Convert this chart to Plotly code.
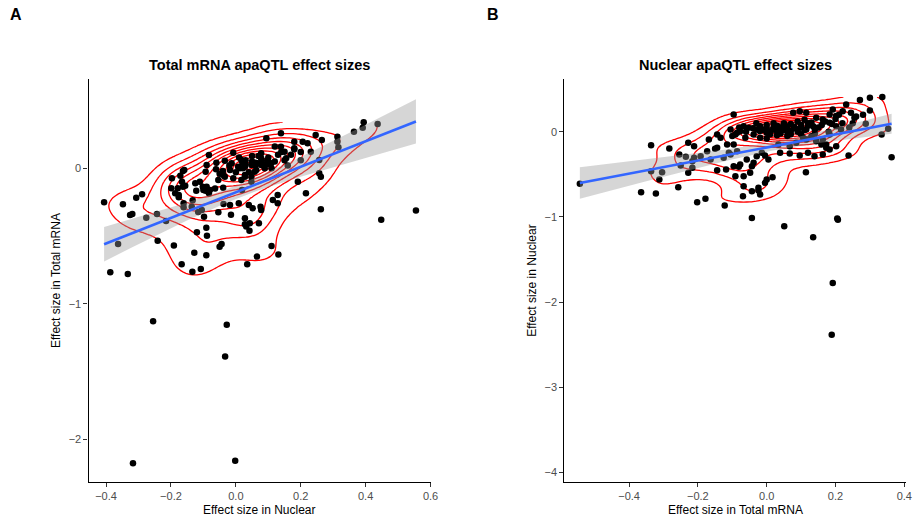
import numpy as np
import plotly.graph_objects as go

# ---------------- Panel A: Total mRNA apaQTLs (x = Nuclear effect, y = Total effect)
a_nuclear = [-0.406, -0.348, -0.307, -0.289, -0.326, -0.319, -0.276, -0.243, -0.215, -0.363,
             -0.387, -0.333, -0.241, -0.191, -0.167, -0.134, -0.108, -0.128, -0.091, -0.050,
             -0.044, 0.035, 0.065, -0.120, -0.091, -0.089, 0.042, 0.028, 0.071, -0.098,
             -0.116, -0.054, -0.015, 0.009, 0.040, 0.052, 0.076, -0.038, -0.083, -0.133,
             -0.161, -0.176, -0.179, -0.199, -0.197, -0.163, -0.156, -0.122, -0.111, -0.102,
             -0.093, -0.083, -0.061, -0.039, -0.034, -0.008, -0.064, -0.039, -0.008, 0.012,
             0.028, 0.058, 0.078, 0.078, 0.019, 0.048,
             -0.090, -0.093, -0.159, -0.171, -0.166, -0.163, -0.125, -0.176, -0.187, -0.161,
             -0.136, -0.100, -0.090, -0.080, -0.105, -0.018, -0.054, -0.034, -0.018, -0.013,
             0.007, 0.017, 0.028,
             0.094, 0.139, 0.246, 0.265, 0.313, 0.206, 0.221, 0.180, 0.180, 0.139,
             0.150, 0.155, 0.078, 0.099, 0.109, 0.068, 0.089, 0.048, 0.022, 0.028,
             0.017, 0.048, 0.063, 0.231, 0.257, 0.313, 0.257, 0.262, 0.191, 0.216,
             0.129, 0.114, 0.129, 0.078, 0.262, 0.028, 0.043, 0.032,
             0.394, 0.391, 0.364, 0.437, 0.316, 0.448, 0.555, 0.110, 0.131,
             -0.255, -0.028, -0.033, -0.317, -0.002,
             0.03, 0.05, 0.06, 0.04, 0.09, 0.10, 0.07, 0.02, -0.02, 0.00,
             0.11, 0.12, -0.06, -0.05, 0.13, 0.12, 0.17, 0.20, 0.16, 0.20,
             -0.04, 0.01, 0.03, 0.05, 0.06, 0.08, 0.10, 0.14, 0.15, 0.18]
a_total = [-0.251, -0.265, -0.217, -0.192, -0.344, -0.337, -0.364, -0.337, -0.388, -0.558,
           -0.766, -0.779, -0.534, -0.570, -0.707, -0.762, -0.742, -0.622, -0.641, -0.578,
           -0.558, -0.707, -0.651, -0.472, -0.438, -0.497, -0.460, -0.413, -0.405, -0.357,
           -0.322, -0.324, -0.342, -0.258, -0.270, -0.295, -0.283, -0.263, -0.184, -0.236,
           -0.258, -0.197, -0.147, -0.147, -0.074, -0.020, -0.128, -0.165, -0.099, -0.136,
           -0.165, 0.098, -0.007, -0.049, 0.056, 0.115, -0.150, -0.143, -0.074, 0.000,
           0.012, -0.025, 0.024, 0.111, -0.160, -0.099,
           0.024, -0.025, -0.013, -0.055, -0.099, -0.136, -0.111, -0.214, -0.184, -0.287,
           -0.283, -0.160, -0.136, -0.160, -0.307, -0.270, -0.086, -0.062, -0.013, 0.037,
           0.012, 0.061, -0.062,
           0.221, 0.258, 0.245, 0.209, 0.233, 0.196, 0.184, 0.196, 0.147, 0.159,
           0.122, 0.074, 0.074, 0.061, 0.037, 0.037, 0.000, 0.024, 0.000, -0.049,
           -0.086, -0.062, -0.013, 0.122, 0.061, 0.196, -0.037, -0.062, -0.099, -0.184,
           -0.197, -0.234, -0.258, -0.307, -0.302, -0.368, -0.405, -0.430,
           0.339, 0.299, 0.270, 0.326, 0.155, -0.379, -0.312, -0.573, -0.636,
           -1.127, -1.153, -1.388, -2.174, -2.155,
           0.03, 0.05, 0.02, -0.03, 0.03, 0.08, 0.09, 0.04, 0.02, -0.03,
           0.00, 0.05, 0.04, -0.04, 0.10, 0.16, 0.10, 0.12, 0.02, 0.06,
           -0.02, 0.08, 0.06, 0.09, 0.04, 0.06, 0.03, 0.12, 0.06, 0.14]

# ---------------- Panel B: Nuclear apaQTLs (x = Total effect, y = Nuclear effect)
b_total = [-0.543, -0.336, -0.283, -0.228, -0.168, -0.144, -0.134, -0.254, -0.235, -0.211,
           -0.192, -0.250, -0.216, -0.173, -0.163, -0.144, -0.125, -0.105, -0.304, -0.312,
           -0.336, -0.228, -0.144, -0.118, -0.365, -0.322, -0.257, -0.202, -0.178, -0.122,
           -0.211, -0.216, -0.096, -0.115, -0.110, -0.096, -0.086, -0.091, -0.067, -0.048,
           -0.096, -0.077, -0.058, -0.038, -0.067, -0.043, -0.024, -0.019, -0.024, -0.091,
           -0.077, -0.062, -0.053, -0.038, -0.029, -0.019, -0.014, -0.029,
           0.271, 0.300, 0.336, 0.334, 0.353, 0.363, 0.288, 0.238, 0.114, -0.043,
           0.051, 0.205, -0.069, -0.005, 0.000, 0.017, -0.081, -0.043, -0.005, 0.005,
           0.039, 0.067, 0.096, 0.120, 0.034, 0.067, 0.086, 0.115, 0.139, 0.163,
           0.183, 0.202, 0.163, 0.183, 0.173, 0.144, 0.163, 0.183, 0.202, 0.221,
           0.231, 0.255, 0.245, 0.096, 0.077, 0.115, 0.019, 0.000, 0.039, 0.058,
           -0.019, -0.067, -0.086, -0.105, 0.115, 0.135, 0.130, 0.106, 0.183, 0.202,
           0.216, 0.144, 0.159, 0.173, 0.192,
           0.135, 0.192, 0.189, 0.207,
           0.02, 0.04, 0.06, 0.08, 0.10, 0.03, -0.01, 0.07, 0.09, 0.12,
           0.14, 0.05, 0.00, -0.03, 0.11, 0.16, 0.25, 0.28, -0.15,
           0.00, 0.01, 0.02, 0.03, 0.04, 0.05, 0.06, 0.07, 0.08, 0.09,
           0.03, 0.05, 0.07, 0.10, 0.11, 0.12, -0.02, -0.04, 0.01, 0.04,
           0.06, 0.13, 0.15, 0.17, 0.19, 0.09, 0.02, -0.06, -0.08, 0.14,
           0.20, 0.22, 0.24, 0.18, -0.10, 0.00, 0.10, 0.26, 0.30, 0.21]
b_nuclear = [-0.612, -0.158, -0.196, -0.129, -0.091, -0.032, -0.071, -0.267, -0.294, -0.306,
             -0.287, -0.396, -0.346, -0.228, -0.326, -0.188, -0.306, -0.267, -0.475, -0.561,
             -0.463, -0.482, -0.452, -0.443, -0.711, -0.726, -0.652, -0.828, -0.788, -0.867,
             -0.169, -0.424, 0.204, -0.149, -0.247, -0.149, -0.228, -0.522, -0.522, -0.482,
             -0.405, -0.385, -0.326, -0.365, -0.640, -0.699, -0.691, -0.738, -0.659, -0.032,
             0.007, -0.071, 0.047, -0.032, 0.027, -0.071, -0.247, -0.287,
             0.372, 0.400, 0.407, -0.032, 0.035, -0.299, 0.094, -0.279, -0.475, -1.012,
             -1.111, -1.020, -0.758, -0.600, -0.561, -0.534, -0.412, -0.405, -0.279, -0.326,
             -0.247, -0.255, -0.279, -0.247, -0.149, -0.169, -0.129, -0.091, -0.287, -0.267,
             -0.208, -0.169, -0.091, -0.032, -0.149, 0.165, 0.145, 0.204, 0.184, 0.242,
             0.321, 0.165, 0.224, 0.242, 0.224, 0.224, 0.027, -0.012, -0.012, 0.066,
             0.066, 0.066, -0.012, 0.027, 0.027, 0.066, -0.052, -0.071, 0.106, 0.066,
             0.027, -0.111, -0.149, -0.188, 0.262,
             -1.240, -1.776, -2.385, -1.032,
             0.05, 0.03, 0.00, 0.04, 0.08, -0.04, 0.02, -0.03, 0.00, 0.10,
             0.03, 0.10, 0.08, 0.10, 0.14, 0.08, 0.10, 0.20, -0.20,
             0.04, 0.00, 0.03, 0.01, 0.05, 0.02, 0.04, 0.01, 0.06, 0.03,
             0.07, 0.08, 0.09, 0.05, 0.02, 0.07, 0.01, 0.04, -0.03, -0.02,
             -0.05, 0.11, 0.05, 0.12, 0.09, 0.12, 0.10, 0.00, 0.05, -0.02,
             0.15, 0.10, 0.05, 0.00, -0.05, -0.08, -0.03, 0.18, 0.25, 0.20]

# tick labels
a_xticks = [-0.4, -0.2, 0.0, 0.2, 0.4, 0.6]
a_xtext = ["\u22120.4", "\u22120.2", "0.0", "0.2", "0.4", "0.6"]
a_yticks = [-2, -1, 0]
a_ytext = ["\u22122", "\u22121", "0"]
b_xticks = [-0.4, -0.2, 0.0, 0.2, 0.4]
b_xtext = ["\u22120.4", "\u22120.2", "0.0", "0.2", "0.4"]
b_yticks = [-4, -3, -2, -1, 0]
b_ytext = ["\u22124", "\u22123", "\u22122", "\u22121", "0"]


def bw_nrd(v):
    q1, q3 = np.percentile(v, [25, 75])
    h = (q3 - q1) / 1.34
    return 4 * 1.06 * min(np.std(v, ddof=1), h) * len(v) ** (-0.2)


def kde2d(x, y, n=100):
    x = np.asarray(x, float)
    y = np.asarray(y, float)
    gx = np.linspace(x.min(), x.max(), n)
    gy = np.linspace(y.min(), y.max(), n)
    hx = bw_nrd(x) / 4
    hy = bw_nrd(y) / 4
    ax = (gx[:, None] - x[None, :]) / hx
    ay = (gy[:, None] - y[None, :]) / hy
    kx = np.exp(-0.5 * ax ** 2) / np.sqrt(2 * np.pi)
    ky = np.exp(-0.5 * ay ** 2) / np.sqrt(2 * np.pi)
    z = kx @ ky.T / (len(x) * hx * hy)
    return gx, gy, z.T


def pretty_step(lo, hi, ndiv=10):
    cell = (hi - lo) / ndiv
    U = 10 ** np.floor(np.log10(cell))
    unit = U
    if 2 * U - cell < 1.5 * (cell - unit):
        unit = 2 * U
        if 5 * U - cell < 2.75 * (cell - unit):
            unit = 5 * U
            if 10 * U - cell < 1.5 * (cell - unit):
                unit = 10 * U
    return unit


def lm_band(x, y, n=80):
    x = np.asarray(x, float)
    y = np.asarray(y, float)
    b, a = np.polyfit(x, y, 1)
    xs = np.linspace(x.min(), x.max(), n)
    fit = a + b * xs
    resid = y - (a + b * x)
    s = np.sqrt(np.sum(resid ** 2) / (len(x) - 2))
    sxx = np.sum((x - x.mean()) ** 2)
    se = s * np.sqrt(1 / len(x) + (xs - x.mean()) ** 2 / sxx)
    t = 1.974
    return xs, fit, fit - t * se, fit + t * se


fig = go.Figure()


def add_panel(x, y, xa, ya, nlev):
    fig.add_trace(go.Scatter(x=x, y=y, mode="markers", xaxis=xa, yaxis=ya,
                             marker=dict(color="black", size=6.5, line=dict(width=0)),
                             hoverinfo="skip", showlegend=False))
    gx, gy, z = kde2d(x, y)
    step = pretty_step(0.0, z.max(), nlev)
    fig.add_trace(go.Contour(x=gx, y=gy, z=z, xaxis=xa, yaxis=ya, autocontour=False,
                             contours=dict(start=step, end=z.max(), size=step, coloring="lines"),
                             colorscale=[[0, "#FF0000"], [1, "#FF0000"]], showscale=False,
                             line=dict(width=1.3), hoverinfo="skip", showlegend=False))
    xs, fit, lo, hi = lm_band(x, y)
    fig.add_trace(go.Scatter(x=np.concatenate([xs, xs[::-1]]), y=np.concatenate([hi, lo[::-1]]),
                             xaxis=xa, yaxis=ya, fill="toself", fillcolor="rgba(153,153,153,0.4)",
                             line=dict(width=0), mode="lines", hoverinfo="skip", showlegend=False))
    fig.add_trace(go.Scatter(x=xs, y=fit, xaxis=xa, yaxis=ya, mode="lines",
                             line=dict(color="#3366FF", width=2.6), hoverinfo="skip",
                             showlegend=False))


add_panel(a_nuclear, a_total, "x", "y", 13)
add_panel(b_total, b_nuclear, "x2", "y2", 18)

W, H = 924, 522
font_family = "Liberation Sans, Arial, sans-serif"
ax_common = dict(showgrid=False, zeroline=False, showline=True, linecolor="black", linewidth=1.3,
                 ticks="outside", ticklen=4, tickwidth=1.1, tickcolor="#333333",
                 tickfont=dict(family=font_family, size=11, color="#4D4D4D"))

ydom = [1 - 481.7 / H, 1 - 79.4 / H]
fig.update_layout(
    width=W, height=H, margin=dict(l=0, r=0, t=0, b=0),
    paper_bgcolor="white", plot_bgcolor="white", showlegend=False,
    xaxis=dict(domain=[89.3 / W, 434.3 / W], range=[-0.454, 0.6], anchor="y",
               tickvals=a_xticks, ticktext=a_xtext, **ax_common),
    yaxis=dict(domain=ydom, range=[-2.31, 0.655], anchor="x",
               tickvals=a_yticks, ticktext=a_ytext, **ax_common),
    xaxis2=dict(domain=[569.3 / W, 914.3 / W], range=[-0.588, 0.406], anchor="y2",
                tickvals=b_xticks, ticktext=b_xtext, **ax_common),
    yaxis2=dict(domain=ydom, range=[-4.11, 0.615], anchor="x2",
                tickvals=b_yticks, ticktext=b_ytext, **ax_common),
)


def ann(text, px, py, size, bold=False, angle=0):
    fig.add_annotation(text=f"<b>{text}</b>" if bold else text, xref="paper", yref="paper",
                       x=px / W, y=1 - py / H, showarrow=False, textangle=angle,
                       xanchor="center", yanchor="middle",
                       font=dict(family=font_family, size=size, color="black"))


ann("A", 16.5, 14, 16, bold=True)
ann("B", 497, 14, 16, bold=True)
ann("Total mRNA apaQTL effect sizes", 261.8, 64.5, 14.5, bold=True)
ann("Nuclear apaQTL effect sizes", 741.8, 64.5, 14.5, bold=True)
ann("Effect size in Nuclear", 261.8, 509.5, 12)
ann("Effect size in Total mRNA", 741.8, 509.5, 12)
ann("Effect size in Total mRNA", 56, 280.5, 12, angle=-90)
ann("Effect size in Nuclear", 536, 280.5, 12, angle=-90)

fig.write_html("out.html")
